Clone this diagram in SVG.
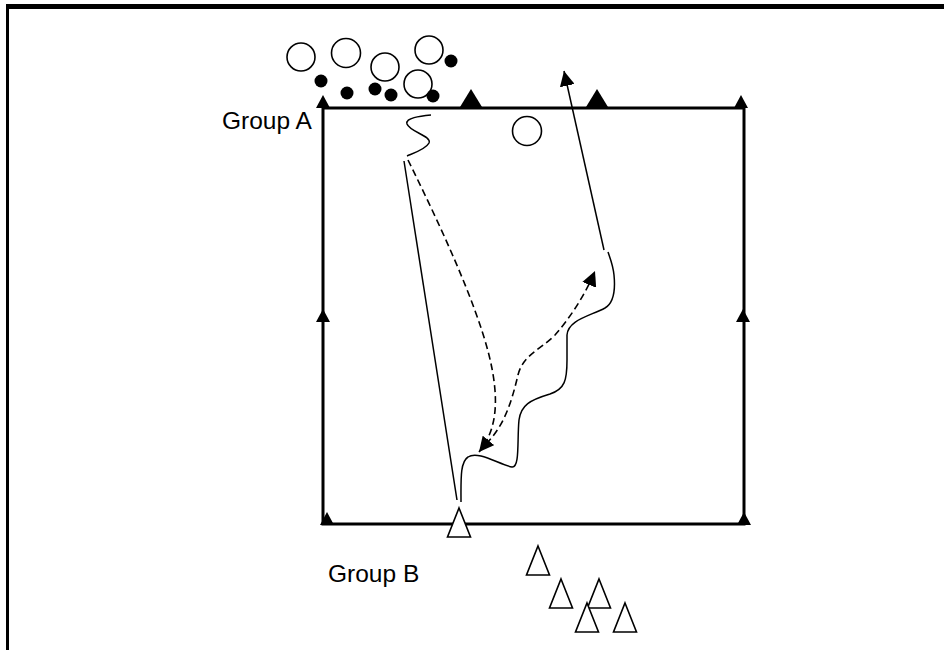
<svg xmlns="http://www.w3.org/2000/svg" width="944" height="650" viewBox="0 0 944 650">
<style>
.frame{fill:#000}
.field{fill:none;stroke:#000;stroke-width:3}
.cone{fill:#000}
.player{fill:#fff;stroke:#000;stroke-width:1.6}
.ball{fill:#000}
.open{fill:#fff;stroke:#000;stroke-width:1.6;stroke-linejoin:miter}
.run{fill:none;stroke:#000;stroke-width:1.5}
.pass{fill:none;stroke:#000;stroke-width:1.6;stroke-dasharray:7 4}
.label{font-family:"Liberation Sans",Arial,sans-serif;font-size:24.5px;fill:#000}
</style>
<defs>
<marker id="ah" viewBox="0 0 15 15" refX="15" refY="7.5" markerWidth="15" markerHeight="15" markerUnits="userSpaceOnUse" orient="auto">
<path d="M0,0 L15,7.5 L0,15 z" fill="#000"/>
</marker>
<path id="upTri" d="M0,-13 L7,0 L-7,0 z"/>
<path id="bigTri" d="M0,-18 L11,0 L-11,0 z"/>
<path id="openTri" d="M0,-29 L11.5,0 L-11.5,0 z"/>
</defs>
<rect width="944" height="650" fill="#fff"/>
<g id="frame">
<rect class="frame" x="6" y="4" width="938" height="5"/>
<rect class="frame" x="6" y="4" width="3" height="646"/>
</g>
<g id="field">
<rect class="field" x="323" y="108" width="421" height="416"/>
<use href="#upTri" class="cone" x="323" y="108"/>
<use href="#upTri" class="cone" x="741" y="108"/>
<use href="#upTri" class="cone" x="323" y="322"/>
<use href="#upTri" class="cone" x="743" y="322"/>
<use href="#upTri" class="cone" x="327" y="525"/>
<use href="#upTri" class="cone" x="744" y="525"/>
<use href="#bigTri" class="cone" x="471" y="107"/>
<use href="#bigTri" class="cone" x="597" y="107"/>
</g>
<g id="groupA">
<circle class="player" cx="301" cy="57" r="14"/>
<circle class="player" cx="346" cy="53" r="14.5"/>
<circle class="player" cx="385" cy="67" r="14"/>
<circle class="player" cx="429" cy="50" r="14"/>
<circle class="player" cx="418" cy="84" r="14"/>
<circle class="ball" cx="321" cy="81" r="6.5"/>
<circle class="ball" cx="347" cy="93" r="6.5"/>
<circle class="ball" cx="375" cy="89" r="6.5"/>
<circle class="ball" cx="391" cy="95" r="6.5"/>
<circle class="ball" cx="433" cy="96" r="6.5"/>
<circle class="ball" cx="451" cy="61" r="6.5"/>
</g>
<g id="playerA">
<circle class="player" cx="527" cy="131" r="14.5"/>
</g>
<g id="playerB">
<use href="#openTri" class="open" x="459" y="537"/>
</g>
<g id="groupB">
<use href="#openTri" class="open" x="538" y="575"/>
<use href="#openTri" class="open" x="561" y="608"/>
<use href="#openTri" class="open" x="599" y="608"/>
<use href="#openTri" class="open" x="587" y="632"/>
<use href="#openTri" class="open" x="625" y="632"/>
</g>
<g id="labels">
<text class="label" x="222" y="129">Group A</text>
<text class="label" x="328" y="582">Group B</text>
</g>
<g id="connectors">
<path class="run" d="M431,115 C 420,116 405,118 407,124 C 410,132 432,136 429,143 C 426,149 414,153 407,156"/>
<path class="run" d="M404,161 L457,500"/>
<path class="pass" d="M408,160 C 440,225 475,300 489,355 C 500,400 497,430 479,452" marker-end="url(#ah)"/>
<path class="pass" d="M486,444 C 505,425 512,400 518,375 C 523,355 540,350 555,335 C 570,318 585,295 595,271" marker-end="url(#ah)"/>
<path class="run" d="M461,502 C 461,480 460,462 468,457 C 478,450 500,465 512,467 C 520,468 517,440 519,420 C 521,405 530,400 550,394 C 565,389 567,380 567,360 L 567,335 C 568,320 590,316 605,308 C 615,302 615,285 614,275 C 613,265 610,258 608,252"/>
<path class="run" d="M604,250 L564,71" marker-end="url(#ah)"/>
</g>
</svg>
